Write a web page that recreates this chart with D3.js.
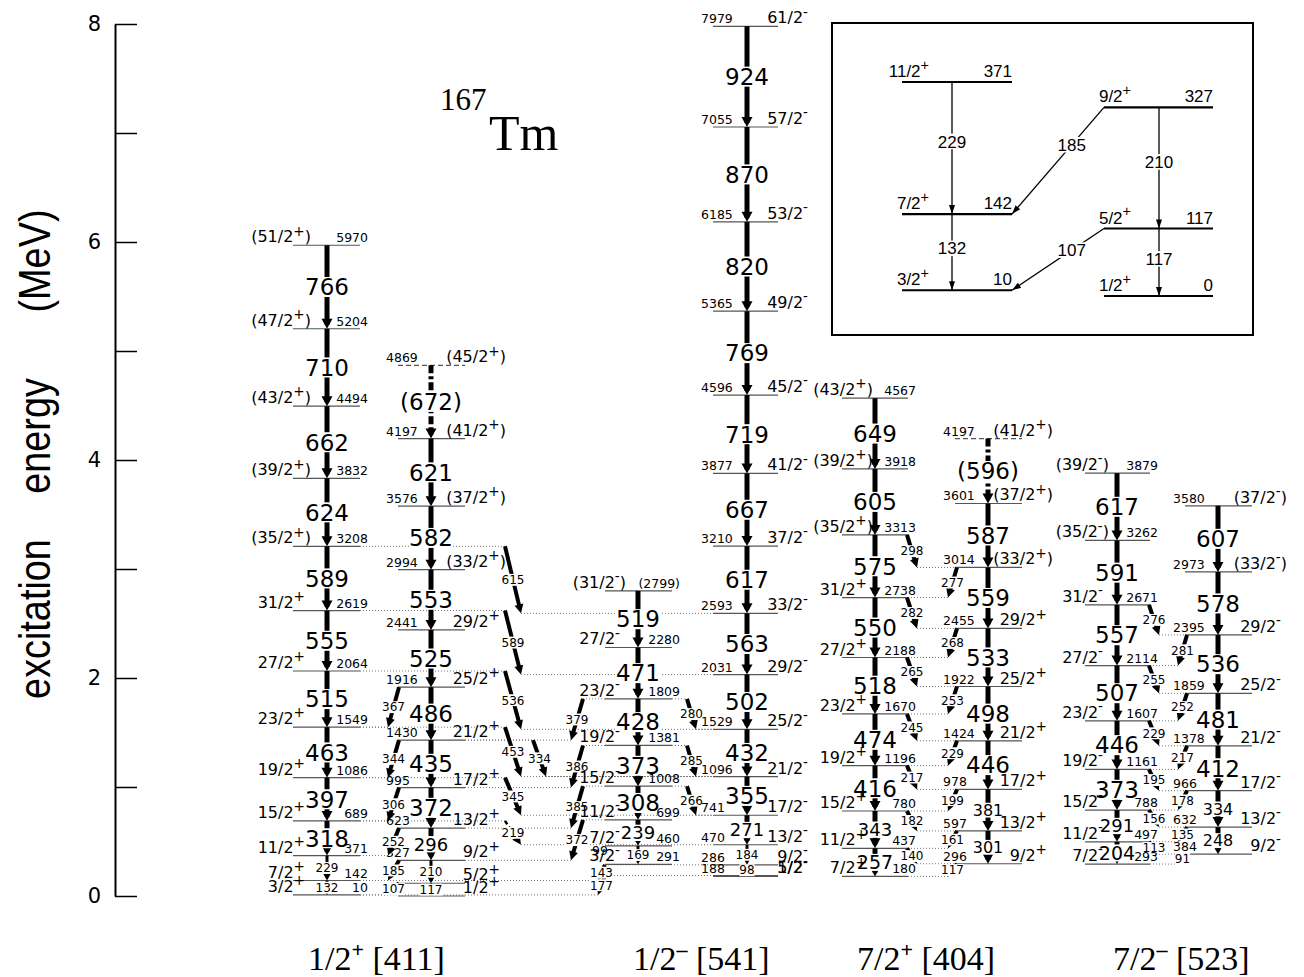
<!DOCTYPE html>
<html>
<head>
<meta charset="utf-8">
<script src="https://cdn.jsdelivr.net/npm/d3@7/dist/d3.min.js"></script>
<style>
body{margin:0;background:#fff;}
svg{display:block;}
</style>
</head>
<body>
<svg id="viz" width="1304" height="977"></svg>
<script>
// ---- data: levels [spin, energy keV, (energy label)], gamma labels bottom-up ----
const levels1pA = [["3/2+",10],["7/2+",142],["11/2+",371],["15/2+",689],["19/2+",1086],["23/2+",1549],["27/2+",2064],["31/2+",2619],["(35/2+)",3208],["(39/2+)",3832],["(43/2+)",4494],["(47/2+)",5204],["(51/2+)",5970]];
const gammas1pA = ["132","229","318","397","463","515","555","589","624","662","710","766"];
const levels1pB = [["1/2+",0,""],["5/2+",117,""],["9/2+",327],["13/2+",623],["17/2+",995],["21/2+",1430],["25/2+",1916],["29/2+",2441],["(33/2+)",2994],["(37/2+)",3576],["(41/2+)",4197],["(45/2+)",4869]];
const gammas1pB = ["117","210","296","372","435","486","525","553","582","621","(672)"];
const levels1mC = [["3/2-",291],["7/2-",460],["11/2-",699],["15/2-",1008],["19/2-",1381],["23/2-",1809],["27/2-",2280],["(31/2-)",2799,"(2799)"]];
const gammas1mC = ["169","239","308","373","428","471","519"];
const levels1mD = [["5/2-",188],["9/2-",286],["13/2-",470],["17/2-",741],["21/2-",1096],["25/2-",1529],["29/2-",2031],["33/2-",2593],["37/2-",3210],["41/2-",3877],["45/2-",4596],["49/2-",5365],["53/2-",6185],["57/2-",7055],["61/2-",7979]];
const gammas1mD = ["98","184","271","355","432","502","563","617","667","719","769","820","870","924"];
const levels7pE = [["7/2+",180],["11/2+",437],["15/2+",780],["19/2+",1196],["23/2+",1670],["27/2+",2188],["31/2+",2738],["(35/2+)",3313],["(39/2+)",3918],["(43/2+)",4567]];
const gammas7pE = ["257","343","416","474","518","550","575","605","649"];
const levels7pF = [["9/2+",296],["13/2+",597],["17/2+",978],["21/2+",1424],["25/2+",1922],["29/2+",2455],["(33/2+)",3014],["(37/2+)",3601],["(41/2+)",4197]];
const gammas7pF = ["301","381","446","498","533","559","587","(596)"];
const levels7mG = [["7/2-",293],["11/2-",497],["15/2-",788],["19/2-",1161],["23/2-",1607],["27/2-",2114],["31/2-",2671],["(35/2-)",3262],["(39/2-)",3879]];
const gammas7mG = ["204","291","373","446","507","557","591","617"];
const levels7mH = [["9/2-",384],["13/2-",632],["17/2-",966],["21/2-",1378],["25/2-",1859],["29/2-",2395],["(33/2-)",2973],["(37/2-)",3580]];
const gammas7mH = ["248","334","412","481","536","578","607"];
const extraLevels = [["D","1/2-",180]];
const extraLabels = [["C",291,"99"]];

// inter-band transitions [from band, E, to band, E, label, tentative]
const links1p = [["B",117,"A",10,"107"],["B",327,"A",142,"185"],["B",623,"A",371,"252"],["B",995,"A",689,"306"],["B",1430,"A",1086,"344"],["B",1916,"A",1549,"367"]];
const links1p1m = [["A",689,"D",470,"219",true],["A",1086,"D",741,"345"],["A",1549,"D",1096,"453"],["A",2064,"D",1529,"536"],["A",2619,"D",2031,"589"],["A",3208,"D",2593,"615"],["B",1430,"D",1096,"334"],["C",699,"B",327,"372"],["C",1008,"B",623,"385"],["C",1381,"B",995,"386"],["C",1809,"B",1430,"379"],["D",286,"A",142,"143"],["D",188,"A",10,"177"]];
const links1m = [["C",1008,"D",741,"266"],["C",1381,"D",1096,"285"],["C",1809,"D",1529,"280"]];
const links7p = [["F",296,"E",180,"117"],["E",437,"F",296,"140"],["F",597,"E",437,"161"],["E",780,"F",597,"182"],["F",978,"E",780,"199"],["E",1196,"F",978,"217"],["F",1424,"E",1196,"229"],["E",1670,"F",1424,"245"],["F",1922,"E",1670,"253"],["E",2188,"F",1922,"265"],["F",2455,"E",2188,"268"],["E",2738,"F",2455,"282"],["F",3014,"E",2738,"277"],["E",3313,"F",3014,"298"]];
const links7m = [["H",384,"G",293,"91"],["G",497,"H",384,"113"],["H",632,"G",497,"135"],["G",788,"H",632,"156"],["H",966,"G",788,"178"],["G",1161,"H",966,"195"],["H",1378,"G",1161,"217"],["G",1607,"H",1378,"229"],["H",1859,"G",1607,"252"],["G",2114,"H",1859,"255"],["H",2395,"G",2114,"281"],["G",2671,"H",2395,"276"]];

// inset: low-lying 1/2+ [411] levels
const insetLevels = [["3/2+",10,"L"],["7/2+",142,"L"],["11/2+",371,"L"],["1/2+",0,"R"],["5/2+",117,"R"],["9/2+",327,"R"]];
const insetGammas = [[371,"L",142,"L","229"],[142,"L",10,"L","132"],[327,"R",117,"R","210"],[117,"R",0,"R","117"],[327,"R",142,"L","185"],[117,"R",10,"L","107"]];

const bandLabels = [["1/2","+","[411]"],["1/2","-","[541]"],["7/2","+","[404]"],["7/2","-","[523]"]];
const axisTicks = [0,1,2,3,4,5,6,7,8];
const axisWords = ["excitation","energy","(MeV)"];
const nucleus = ["167","Tm"];

// ---- layout ----
const svg = d3.select("#viz");
svg.append("rect").attr("width",1304).attr("height",977).attr("fill","#fff");
const yMeV = d3.scaleLinear().domain([0,8]).range([896,24]);
const y = e => yMeV(e/1000);
const FONT = "'DejaVu Sans', Verdana, sans-serif";
const SERIF = "'Liberation Serif', 'Times New Roman', serif";

const cols = {
  A:{levels:levels1pA, gammas:gammas1pA, x1:293, x2:360, tx:327, side:"L", spinX:305, sizes:[12,12]},
  B:{levels:levels1pB, gammas:gammas1pB, x1:398, x2:465, tx:431, side:"R", spinX:500, sizes:[12,12,18]},
  C:{levels:levels1mC, gammas:gammas1mC, x1:605, x2:672, tx:638, side:"L", spinX:620, sizes:[12,18]},
  D:{levels:levels1mD, gammas:gammas1mD, x1:713, x2:778, tx:747, side:"R", spinX:808, sizes:[12,12,18]},
  E:{levels:levels7pE, gammas:gammas7pE, x1:842, x2:908, tx:875, side:"L", spinX:867, sizes:[19,18]},
  F:{levels:levels7pF, gammas:gammas7pF, x1:955, x2:1022, tx:988, side:"R", spinX:1047, sizes:[16,16]},
  G:{levels:levels7mG, gammas:gammas7mG, x1:1085, x2:1150, tx:1117, side:"L", spinX:1103, sizes:[19,18]},
  H:{levels:levels7mH, gammas:gammas7mH, x1:1185, x2:1252, tx:1218, side:"R", spinX:1281, sizes:[16,16]}
};

// layers: dotted guides, level lines, transitions, gamma labels, level texts on top
const gDots = svg.append("g"), gLev = svg.append("g"), gTr = svg.append("g"), gLab = svg.append("g"), gTxt = svg.append("g");

function spinText(g, x, yy, s, fs, family){
  const m = s.match(/^(\(?)([\d\/]+)([+-])(\)?)$/);
  const t = g.append("text").attr("x", x + (m[4] ? 6 : 0)).attr("y", yy)
    .attr("text-anchor","end").attr("font-family",family||FONT).attr("font-size",fs);
  t.append("tspan").text(m[1]+m[2]);
  t.append("tspan").attr("font-size",fs*0.85).attr("dy",-fs*0.42).text(m[3]);
  if(m[4]) t.append("tspan").attr("dy",fs*0.42).text(m[4]);
  return t;
}

function arrowHead(g, x0, y0, x1, y1, len, hw){
  const dx=x1-x0, dy=y1-y0, L=Math.hypot(dx,dy), ux=dx/L, uy=dy/L;
  const bx=x1-ux*len, by=y1-uy*len;
  g.append("path").attr("d",`M${x1},${y1}L${bx-uy*hw},${by+ux*hw}L${bx+uy*hw},${by-ux*hw}Z`).attr("fill","#000");
}

function label(g, x, yc, txt, fs, family){
  const t = g.append("text").attr("x",x).attr("y",yc+fs*0.36).attr("text-anchor","middle")
    .attr("font-family",family||FONT).attr("font-size",fs).text(txt);
  const bb = t.node().getBBox();
  const h = fs*0.74;
  g.insert("rect", () => t.node()).attr("x",bb.x).attr("y",yc-h/2-1.5)
    .attr("width",bb.width).attr("height",h+3).attr("fill","#fff");
}

function dotted(x0, x1, yy){
  gDots.append("line").attr("x1",x0).attr("x2",x1).attr("y1",yy).attr("y2",yy)
    .attr("stroke","#777").attr("stroke-width",1).attr("stroke-dasharray","1,2");
}

function drawLevel(c, spin, e, elab, dashed){
  const yy = y(e);
  gLev.append("line").attr("x1",c.x1).attr("x2",c.x2).attr("y1",yy).attr("y2",yy)
    .attr("stroke","#555").attr("stroke-width",1.2).attr("stroke-dasharray",dashed?"5,3":null);
  spinText(gTxt, c.spinX, yy-3, spin, 16);
  if(elab !== ""){
    gTxt.append("text").attr("x", c.side==="L" ? c.x2+8 : c.x1-12).attr("y",yy-3)
      .attr("text-anchor", c.side==="L" ? "end" : "start")
      .attr("font-family",FONT).attr("font-size",12.5).text(elab);
  }
}

Object.values(cols).forEach(c => {
  c.levels.forEach((lv,i) => {
    const tentative = i>0 && c.gammas[i-1].startsWith("(");
    drawLevel(c, lv[0], lv[1], lv[2]===undefined ? String(lv[1]) : lv[2], tentative);
  });
  c.levels.forEach((lv,i) => {
    if(i===0) return;
    const g = c.gammas[i-1], y0 = y(lv[1]), y1 = y(c.levels[i-1][1]);
    const fs = c.sizes[i-1] || 23, small = fs <= 12;
    const tent = g.startsWith("(");
    gTr.append("line").attr("x1",c.tx).attr("x2",c.tx).attr("y1",y0).attr("y2",y1-4)
      .attr("stroke","#000").attr("stroke-width", small ? 3 : 5)
      .attr("stroke-dasharray", tent ? "8,3,3,3" : null);
    arrowHead(gTr, c.tx, y0, c.tx, y1, small ? 7 : 10, small ? 4 : 5.5);
    label(gLab, c.tx, (y0+y1)/2, g, fs);
  });
});
extraLevels.forEach(([k,s,e]) => drawLevel(cols[k], s, e, "", false));
extraLabels.forEach(([k,e,t]) => {
  gTxt.append("text").attr("x",cols[k].spinX-20).attr("y",y(e)-9).attr("text-anchor","middle")
    .attr("font-family",FONT).attr("font-size",12.5).text(t);
});

function linkGeom(l){
  const [fk, fe, tk, te] = l, F = cols[fk], T = cols[tk];
  const y0 = y(fe), y1 = y(te), dots = [];
  let x0, x1;
  switch(fk+">"+tk){
    case "B>A": x0=F.x1+1; x1=F.x1-10; dots.push([T.x2,x1,y1]); break;
    case "A>D": x0=505; x1=521; dots.push([F.x2,x0,y0],[x1,T.x1,y1]); break;
    case "B>D": x0=533; x1=546; dots.push([F.x2,x0,y0],[x1,T.x1,y1]); break;
    case "C>B": x0=F.x1-22; x1=F.x1-34; dots.push([x0,F.x1,y0],[T.x2,x1,y1]); break;
    case "C>D": x0=F.x2+15; x1=F.x2+24; dots.push([F.x2,x0,y0],[x1,T.x1,y1]); break;
    case "D>A": x0=605; x1=598; dots.push([x0,F.x1,y0],[T.x2,x1,y1]); break;
    default:
      if(F.x1 < T.x1){ x0=F.x2-1; x1=F.x2+9; dots.push([x1,T.x1,y1]); }
      else { x0=F.x1+2; x1=F.x1-7; dots.push([T.x2,x1,y1]); }
  }
  return {x0,y0,x1,y1,dots};
}

[...links1p, ...links1p1m, ...links1m, ...links7p, ...links7m].forEach(l => {
  const g = linkGeom(l);
  g.dots.forEach(d => dotted(d[0], d[1], d[2]));
  const L = Math.hypot(g.x1-g.x0, g.y1-g.y0);
  const ah = Math.min(9, L*0.45);
  const ux = (g.x1-g.x0)/L, uy = (g.y1-g.y0)/L;
  gTr.append("line").attr("x1",g.x0).attr("y1",g.y0).attr("x2",g.x1-ux*ah*0.6).attr("y2",g.y1-uy*ah*0.6)
    .attr("stroke","#000").attr("stroke-width", l[5] ? 2.5 : 4)
    .attr("stroke-dasharray", l[5] ? "4,3" : null);
  arrowHead(gTr, g.x0, g.y0, g.x1, g.y1, ah, 4.5);
  label(gLab, (g.x0+g.x1)/2, (g.y0+g.y1)/2, l[4], 12);
});

// ---- axis ----
const axis = d3.axisLeft(yMeV).tickValues(axisTicks).tickSizeInner(-22).tickSizeOuter(0)
  .tickPadding(14).tickFormat(d => d%2===0 ? d : "");
const gAx = svg.append("g").attr("transform","translate(115,0)").call(axis);
gAx.select(".domain").attr("stroke-width",2);
gAx.selectAll(".tick line").attr("stroke-width",1.5);
gAx.selectAll(".tick text").attr("font-family",FONT).attr("font-size",21).attr("fill","#000");

const wordY = [619, 436, 261];
axisWords.forEach((w,i) => {
  svg.append("text").attr("transform",`translate(50,${wordY[i]}) rotate(-90) scale(0.86,1)`)
    .attr("text-anchor","middle").attr("font-family","'Liberation Sans', Arial, sans-serif")
    .attr("font-size",44).text(w);
});

// ---- title ----
svg.append("text").attr("x",440).attr("y",110).attr("font-family",SERIF).attr("font-size",31).text(nucleus[0]);
svg.append("text").attr("x",489).attr("y",150).attr("font-family",SERIF).attr("font-size",50).text(nucleus[1]);

// ---- band labels ----
const bandX = [308, 633, 857, 1113];
bandLabels.forEach((b,i) => {
  const t = svg.append("text").attr("x",bandX[i]).attr("y",970).attr("font-family",SERIF).attr("font-size",34);
  t.append("tspan").text(b[0]);
  t.append("tspan").attr("font-size",22).attr("font-weight","bold").attr("dy",-13).text(b[1]==="-" ? "\u2013" : "+");
  t.append("tspan").attr("dy",13).text("\u00a0" + b[2]);
});

// ---- inset ----
const gIn = svg.append("g");
gIn.append("rect").attr("x",832).attr("y",23).attr("width",421).attr("height",312)
  .attr("fill","#fff").attr("stroke","#000").attr("stroke-width",2);
const yIn = d3.scaleLinear().domain([0,371]).range([296,82]);
const inCols = {L:{x1:902,x2:1012,tx:952}, R:{x1:1104,x2:1213,tx:1159}};
const INF = "'Liberation Sans', Arial, sans-serif";
insetLevels.forEach(([s,e,k]) => {
  const c = inCols[k], yy = yIn(e);
  gIn.append("line").attr("x1",c.x1).attr("x2",c.x2).attr("y1",yy).attr("y2",yy).attr("stroke","#000").attr("stroke-width",2.2);
  spinText(gIn, c.x1+27, yy-5, s, 17, INF);
  gIn.append("text").attr("x",c.x2).attr("y",yy-5).attr("text-anchor","end").attr("font-family",INF).attr("font-size",17).text(e);
});
insetGammas.forEach(([fe,fk,te,tk,lab]) => {
  const F = inCols[fk], T = inCols[tk];
  let x0, x1, t;
  if(fk===tk){ x0=x1=F.tx; t=0.45; } else { x0=F.x1; x1=T.x2; t=0.35; }
  const y0 = yIn(fe), y1 = yIn(te);
  gIn.append("line").attr("x1",x0).attr("y1",y0).attr("x2",x1).attr("y2",y1).attr("stroke","#000").attr("stroke-width",1.3);
  arrowHead(gIn, x0, y0, x1, y1, 9, 3);
  label(gIn, x0+(x1-x0)*t, y0+(y1-y0)*t, lab, 17, INF);
});
</script>
</body>
</html>
